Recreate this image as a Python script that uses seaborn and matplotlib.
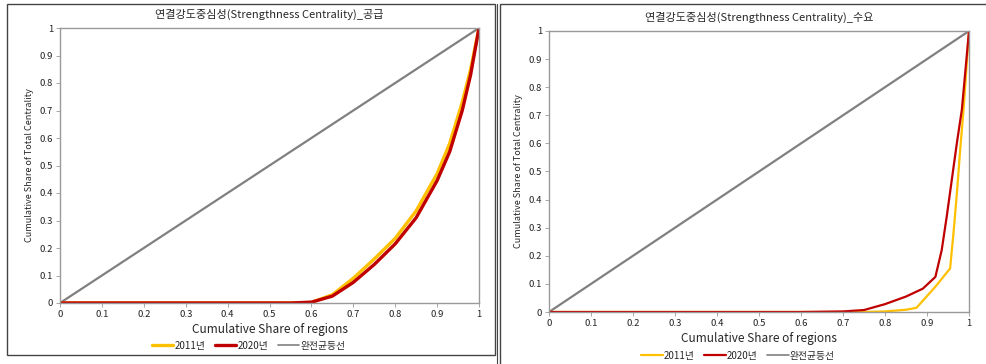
import pandas as pd
import seaborn as sns
import matplotlib.pyplot as plt
from matplotlib.patches import Rectangle
from matplotlib.lines import Line2D
from matplotlib.ticker import FormatStrFormatter

# Lorenz curves
supply_x = [0, 0.55, 0.6, 0.65, 0.7, 0.75, 0.8, 0.85, 0.9, 0.93, 0.96, 0.98, 1.0]
supply_2011 = [0, 0, 0.002, 0.03, 0.09, 0.16, 0.235, 0.335, 0.47, 0.58, 0.73, 0.85, 1.0]
supply_2020 = [0, 0, 0.003, 0.025, 0.075, 0.14, 0.215, 0.31, 0.445, 0.55, 0.70, 0.83, 1.0]

demand_x_2011 = [0, 0.7, 0.75, 0.8, 0.85, 0.875, 0.92, 0.955, 0.963, 0.971, 0.979, 0.987, 1.0]
demand_2011 = [0, 0, 0, 0.002, 0.008, 0.015, 0.09, 0.155, 0.28, 0.42, 0.577, 0.72, 1.0]
demand_x_2020 = [0, 0.6, 0.7, 0.75, 0.8, 0.85, 0.89, 0.92, 0.935, 0.947, 0.959, 0.971, 0.983, 1.0]
demand_2020 = [0, 0, 0.002, 0.007, 0.028, 0.055, 0.083, 0.125, 0.22, 0.34, 0.47, 0.6, 0.72, 1.0]

equal_x = [0, 1]
equal_y = [0, 1]

titles = ['연결강도중심성(Strengthness Centrality)_공급', '연결강도중심성(Strengthness Centrality)_수요']
legend_labels = ['2011년', '2020년', '완전균등선']
xlabel = 'Cumulative Share of regions'
ylabel = 'Cumulative Share of Total Centrality'

c2011 = '#FFC000'
c2020 = '#C00000'
cgray = '#808080'

sns.set_style('white')
plt.rcParams['font.family'] = ['Noto Sans CJK KR', 'DejaVu Sans']

fig = plt.figure(figsize=(9.86, 3.64), dpi=100)
W, H = 986, 364

def px_axes(x0, y0, x1, y1):
    return fig.add_axes([x0 / W, 1 - y1 / H, (x1 - x0) / W, (y1 - y0) / H])

# panel frames
fig.add_artist(Rectangle((7 / W, 1 - 355 / H), 488 / W, 351 / H, transform=fig.transFigure,
                         fill=False, edgecolor='#444444', lw=1.0))
fig.add_artist(Rectangle((500 / W, -0.01), 0.5, 1 - 4 / H + 0.01, transform=fig.transFigure,
                         fill=False, edgecolor='#444444', lw=1.0))
fig.add_artist(Line2D([497 / W, 497 / W], [0, 1 - 4 / H], transform=fig.transFigure,
                      color='#444444', lw=0.8))

ax1 = px_axes(60, 28, 479, 303)
ax2 = px_axes(549, 31, 969, 312)

panels = [
    (ax1, supply_x, supply_2011, supply_x, supply_2020, 2.4),
    (ax2, demand_x_2011, demand_2011, demand_x_2020, demand_2020, 1.6),
]

for i, (ax, x11, y11, x20, y20, lw) in enumerate(panels):
    sns.lineplot(x=equal_x, y=equal_y, ax=ax, color=cgray, lw=1.6)
    sns.lineplot(x=x11, y=y11, ax=ax, color=c2011, lw=lw)
    sns.lineplot(x=x20, y=y20, ax=ax, color=c2020, lw=lw)
    ax.set_xlim(0, 1)
    ax.set_ylim(0, 1)
    ax.set_xticks([j / 10 for j in range(11)])
    ax.set_yticks([j / 10 for j in range(11)])
    ax.xaxis.set_major_formatter(FormatStrFormatter('%g'))
    ax.yaxis.set_major_formatter(FormatStrFormatter('%g'))
    ax.tick_params(axis='both', labelsize=6.8, colors='#222222', length=3, width=0.6,
                   direction='out', bottom=True, left=True, pad=2)
    ax.tick_params(axis='both', color='#999999')
    for s in ax.spines.values():
        s.set_color('#999999')
        s.set_linewidth(1.0)
    ax.set_title(titles[i], fontsize=8, pad=7)
    ax.set_xlabel(xlabel, fontsize=8.5, labelpad=3)
    ax.set_ylabel(ylabel, fontsize=6.5, labelpad=4)
    handles = [Line2D([0], [0], color=c2011, lw=lw),
               Line2D([0], [0], color=c2020, lw=lw),
               Line2D([0], [0], color=cgray, lw=1.2)]
    ax.legend(handles, legend_labels, loc='center', ncol=3, frameon=False,
              fontsize=7, bbox_to_anchor=(0.45, -0.156), borderaxespad=0, borderpad=0,
              handlelength=2.2, handletextpad=0.1, columnspacing=1.0)

fig.savefig('out.png', dpi=100)
